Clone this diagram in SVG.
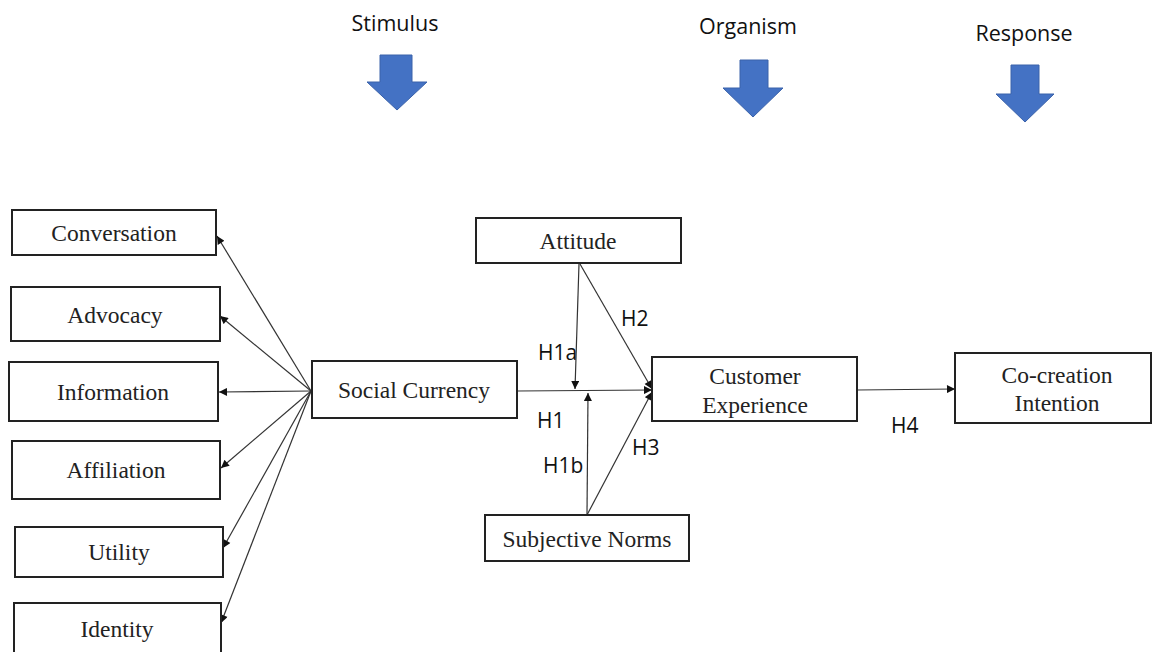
<svg xmlns="http://www.w3.org/2000/svg" width="1152" height="652" viewBox="0 0 1152 652">
<defs>
<marker id="ah" viewBox="0 0 10 10" refX="10" refY="5" markerWidth="9" markerHeight="8" markerUnits="userSpaceOnUse" orient="auto">
<path d="M0,0 L10,5 L0,10 z" fill="#111"/>
</marker>
<style>
.box{fill:#fff;stroke:#222;stroke-width:2}
.t{font-family:"Liberation Serif",serif;font-size:23.5px;fill:#222;text-anchor:middle}
.h{font-family:"Open Sans","Liberation Sans",sans-serif;font-size:21px;fill:#111}
.stage{font-family:"Open Sans","Liberation Sans",sans-serif;font-size:21.5px;fill:#111;text-anchor:middle}
.c{fill:none;stroke:#333;stroke-width:1.2;marker-end:url(#ah)}
.blk{fill:#4472C4;stroke:#3A62AA;stroke-width:1}
</style>
</defs>
<rect width="1152" height="652" fill="#fff"/>
<g id="stages">
<text class="stage" x="395" y="31">Stimulus</text>
<path class="blk" d="M380,55 H412 V82 H427 L397,110 L367,82 H380 Z"/>
<text class="stage" x="748" y="34">Organism</text>
<path class="blk" d="M740,60 H768 V88 H783 L753,117 L723,88 H740 Z"/>
<text class="stage" x="1024" y="41">Response</text>
<path class="blk" d="M1011,65 H1039 V94 H1054 L1025,122 L996,94 H1011 Z"/>
</g>
<g id="connectors">
<line class="c" x1="311" y1="391" x2="217" y2="236"/>
<line class="c" x1="311" y1="391" x2="220" y2="316"/>
<line class="c" x1="311" y1="391" x2="219" y2="392"/>
<line class="c" x1="311" y1="391" x2="221" y2="468"/>
<line class="c" x1="311" y1="391" x2="223" y2="548"/>
<line class="c" x1="311" y1="391" x2="221" y2="623"/>
<line class="c" x1="517" y1="391" x2="652" y2="390"/>
<line class="c" x1="579" y1="264" x2="575" y2="389"/>
<line class="c" x1="580" y1="264" x2="652" y2="389"/>
<line class="c" x1="587" y1="515" x2="588" y2="393"/>
<line class="c" x1="587" y1="515" x2="652" y2="392"/>
<line class="c" x1="857" y1="390" x2="955" y2="389"/>
</g>
<g id="labels">
<text class="h" x="621" y="326">H2</text>
<text class="h" x="538" y="360">H1a</text>
<text class="h" x="537" y="428">H1</text>
<text class="h" x="543" y="473">H1b</text>
<text class="h" x="632" y="455">H3</text>
<text class="h" x="891" y="433">H4</text>
</g>
<g id="conversation"><rect class="box" x="12" y="210" width="204" height="45"/><text class="t" x="114" y="241">Conversation</text></g>
<g id="advocacy"><rect class="box" x="11" y="287" width="209" height="54"/><text class="t" x="115" y="323">Advocacy</text></g>
<g id="information"><rect class="box" x="9" y="362" width="209" height="59"/><text class="t" x="113" y="400">Information</text></g>
<g id="affiliation"><rect class="box" x="12" y="441" width="208" height="58"/><text class="t" x="116" y="478">Affiliation</text></g>
<g id="utility"><rect class="box" x="15" y="527" width="208" height="50"/><text class="t" x="119" y="560">Utility</text></g>
<g id="identity"><rect class="box" x="14" y="603" width="207" height="54"/><text class="t" x="117" y="637">Identity</text></g>
<g id="social-currency"><rect class="box" x="312" y="361" width="205" height="57"/><text class="t" x="414" y="398">Social Currency</text></g>
<g id="attitude"><rect class="box" x="476" y="218" width="205" height="45"/><text class="t" x="578" y="249">Attitude</text></g>
<g id="subjective-norms"><rect class="box" x="485" y="515" width="204" height="46"/><text class="t" x="587" y="547">Subjective Norms</text></g>
<g id="customer-experience"><rect class="box" x="652" y="357" width="205" height="64"/><text class="t" x="755" y="384">Customer</text><text class="t" x="755" y="413">Experience</text></g>
<g id="co-creation-intention"><rect class="box" x="955" y="353" width="196" height="70"/><text class="t" x="1057" y="383">Co-creation</text><text class="t" x="1057" y="411">Intention</text></g>
</svg>
